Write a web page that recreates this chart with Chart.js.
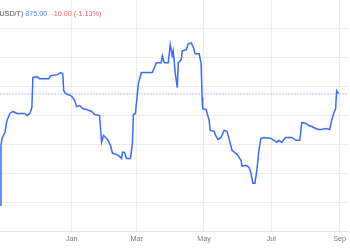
<!DOCTYPE html>
<html>
<head>
<meta charset="utf-8">
<script src="https://cdn.jsdelivr.net/npm/chart.js@4/dist/chart.umd.min.js"></script>
<style>
  html, body { margin: 0; padding: 0; background: #fff; overflow: hidden; }
  #wrap { position: relative; width: 350px; height: 250px; }
  #hdr { position: absolute; left: -3px; top: 9px; font-family: "Liberation Sans", Arial, sans-serif; font-size: 7.2px; white-space: nowrap; color: #555; z-index: 2; }
  #hdr .p { color: #5a7cf2; }
  #hdr .c { color: #f06565; }
</style>
</head>
<body>
<div id="wrap">
  <div id="hdr">(USD/T) <span class="p">875.00</span>&nbsp;&nbsp;<span class="c">-10.00 (-1.13%)</span></div>
  <canvas id="c" width="350" height="250"></canvas>
</div>
<script>
// days relative to Jan 1
const days = [-65,-64.1,-63.2,-60.5,-58.7,-56,-53.3,-49.7,-42.5,-40.7,-37.9,-36.1,-35.2,-31.6,-28.9,-20.8,-19,-12.6,-9.9,-8.1,-7.2,-5.4,-0.9,0.9,2.7,4.5,7.2,9.9,13.6,18.1,20.8,25.3,27.1,28.9,32.5,35.2,37,40.7,43.4,45.2,46.1,47.9,49.7,53.3,55.1,56,57.8,59.6,60.5,63.2,73.2,76.8,81.3,82.2,84,87.6,89.4,91.2,92.1,94,95.8,96.7,99.4,100.3,103.9,105.7,108.4,110.2,112,115.6,117.4,118.3,118.8,122,122.9,124.7,125.6,129.2,131,132.8,135.5,138.2,140.9,143.6,145.4,150,153.6,154.5,158.1,160.8,162.6,164.4,166.2,168,169.8,171.6,174.3,180.7,183.4,186.1,187.9,190.6,192.4,194.2,199.6,203.3,206.9,208.7,212.3,215,217.7,221.3,224,226.7,230.4,234,235.8,237.6,239.4,240.3,242.1];
const prices = [798,839.3,844.1,848.3,856.6,861.4,862.8,861.4,861.4,860,861.4,865.5,886.2,886.9,885.5,885.5,887.6,888.3,889.7,889,877.2,875.2,873.8,872.4,870.3,866.2,866.9,864.8,864.1,862.8,860.7,860,841.4,846.2,843.4,839.3,833.8,833.1,831.7,830.3,834.5,834.5,830.3,830.3,840.7,860.7,861.4,875.2,882.1,889.7,889.7,896.6,896.6,901.4,896.6,896.6,909,901.4,904.8,889,879.3,896.6,898.6,904.8,905.5,909.7,910.3,907.6,902.8,902.8,895.9,872.4,864.8,864.1,861.4,856.6,849.7,849,845.5,843.4,844.8,849.7,849,841.4,835.9,833.1,829,824.8,825.5,824.1,820,813.1,813.1,822.1,835.9,844.1,844.8,844.1,842.8,841.4,842.8,841.4,843.4,844.8,844.8,842.8,842.8,855.2,854.5,853.1,852.4,851,850.3,850.3,851,850.3,856.6,861.4,864.8,877.2,875.2];
const lastPrice = 875;
const tickDays = [0, 59, 120, 181, 243];
const tickLabels = ['Jan', 'Mar', 'May', 'Jul', 'Sep'];

const mainData = days.map((d, i) => ({ x: d, y: prices[i] }));
const refData = [{ x: -65, y: lastPrice }, { x: 251, y: lastPrice }];

new Chart(document.getElementById('c'), {
  type: 'line',
  data: {
    datasets: [
      { data: mainData, borderColor: '#3a6cf4', borderWidth: 1.5, pointRadius: 0, tension: 0, fill: false },
      { data: refData, borderColor: '#b4c4f6', borderWidth: 1, borderDash: [2, 1], pointRadius: 0, fill: false }
    ]
  },
  options: {
    responsive: false,
    animation: false,
    layout: { padding: 0 },
    plugins: { legend: { display: false }, tooltip: { enabled: false } },
    scales: {
      x: {
        type: 'linear', min: -65, max: 251,
        afterBuildTicks: s => { s.ticks = tickDays.map(v => ({ value: v })); },
        afterFit: s => { s.height = 19; },
        ticks: {
          autoSkip: false, maxRotation: 0, padding: 4,
          color: '#777', font: { family: 'Liberation Sans, Arial, sans-serif', size: 7.2 },
          callback: v => tickLabels[tickDays.indexOf(v)] || ''
        },
        grid: { color: '#ececec', drawTicks: false },
        border: { color: '#e4e4e4' }
      },
      y: {
        min: 780, max: 940,
        afterFit: s => { s.width = 0; },
        afterBuildTicks: s => { s.ticks = [800,820,840,860,880,900,920].map(v => ({ value: v })); },
        ticks: { display: false },
        grid: { color: '#ececec', drawTicks: false },
        border: { display: false }
      }
    }
  }
});
</script>
</body>
</html>
